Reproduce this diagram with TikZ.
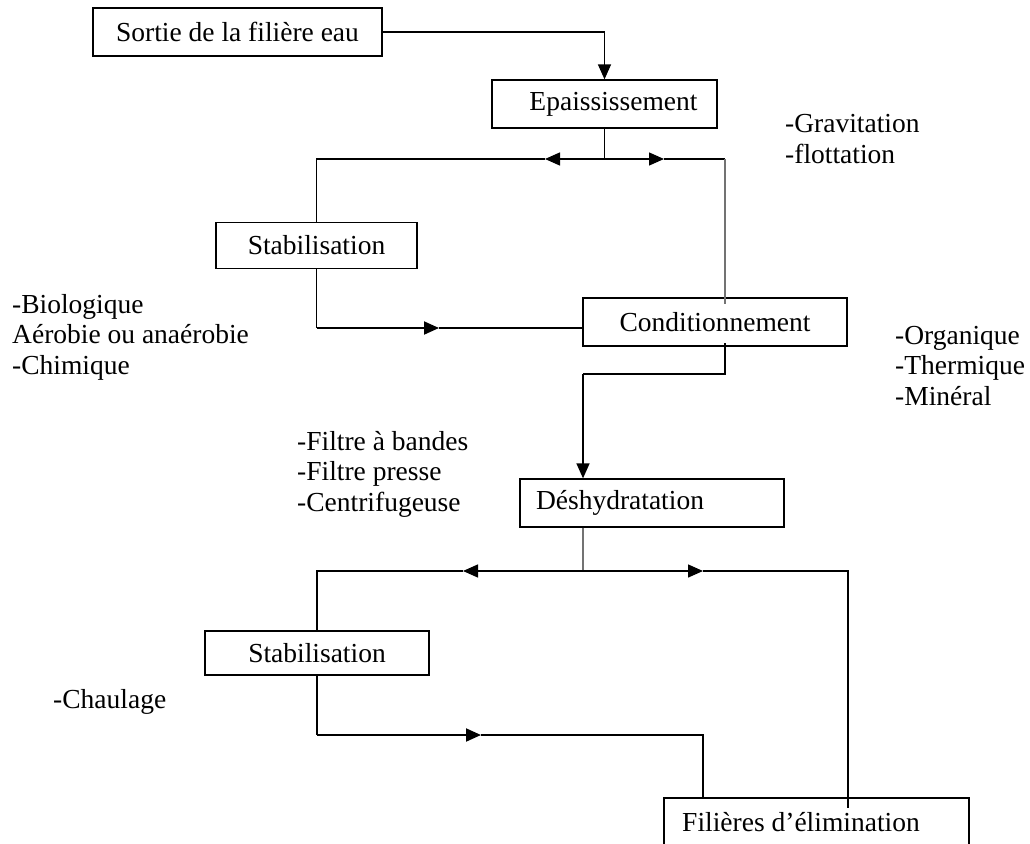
\documentclass[tikz,border=0pt]{standalone}
\usepackage{fontspec}
\setmainfont{Liberation Serif}
\usetikzlibrary{arrows.meta}
\begin{document}
\begin{tikzpicture}[x=1pt,y=-1pt,
  every node/.style={font=\fontsize{27.5}{30.5}\selectfont},
  box/.style={draw, line width=1.3pt, inner sep=0pt, minimum height=48pt},
  ln/.style={line width=1.4pt},
  thk/.style={line width=1.9pt},
  gln/.style={line width=1.4pt, draw=black!55},
  tip/.style={-{Triangle[length=15pt,width=13pt]}},
  arr/.style={line width=1.4pt, tip},
  note/.style={anchor=base west, align=left, inner sep=0pt}]
\useasboundingbox (0,0) rectangle (1030,843);
\clip (0,0) rectangle (1030,843);

% boxes
\node[box, minimum width=289pt] (sortie) at (237.5,32) {Sortie de la filière eau};
\node[box, minimum width=225pt] (epa) at (604.5,104) {\hspace*{18pt}Epaississement};
\node[box, minimum width=201pt, minimum height=46pt] (stab1) at (316.5,245.5) {Stabilisation};
\node[box, minimum width=264pt] (cond) at (715,322) {Conditionnement};
\node[box, minimum width=264pt] (deshy) at (652,503) {Déshydratation\hspace*{64pt}};
\node[box, minimum width=224pt, minimum height=44pt] (stab2) at (317,653) {Stabilisation};
\node[box, minimum width=305pt] (fil) at (816.5,822) {Filières d’élimination\hspace*{31pt}};

% notes (anchored at the baseline of their last line)
\node[note] (n1) at (785,163) {-Gravitation\\-flottation};
\node[note] (n2) at (12,374) {-Biologique\\Aérobie ou anaérobie\\-Chimique};
\node[note] (n3) at (895,405) {-Organique\\-Thermique\\-Minéral};
\node[note] (n4) at (297,511) {-Filtre à bandes\\-Filtre presse\\-Centrifugeuse};
\node[note] (n5) at (53,708) {-Chaulage};

% coordinates
\coordinate (sp1) at (604.5,159);
\coordinate (t1l) at (545,159);
\coordinate (t1r) at (664,159);
\coordinate (c1) at (725,159);
\coordinate (c1e) at (725,304);
\coordinate (c2) at (316.5,328);
\coordinate (t2) at (439,328);
\coordinate (c3) at (725,343);
\coordinate (c4) at (725,374);
\coordinate (c5) at (583,374);
\coordinate (c6) at (583,571);
\coordinate (t3l) at (463,571);
\coordinate (t3r) at (703,571);
\coordinate (c7) at (848,808);
\coordinate (c8) at (317,735);
\coordinate (t4) at (481,735);
\coordinate (c9) at (703,798);

% connectors
\draw[arr] (sortie.east) -| (epa.north);
\draw[ln] (epa.south) -- (sp1);
\draw[arr] (sp1) -- (t1l);
\draw[ln] (t1l) -| (stab1.north);
\draw[arr] (sp1) -- (t1r);
\draw[ln] (t1r) -- (c1);
\draw[gln] (c1) -- (c1e);

\draw[ln] (stab1.south) -- (c2);
\draw[thk, tip] (c2) -- (t2);
\draw[ln] (t2) -- (t2 -| cond.west);

\draw[ln] (c3) -- (c4) -- (c5);
\draw[arr] (c5) -- (c5 |- deshy.north);

\draw[gln] (c6 |- deshy.south) -- (c6);
\draw[arr] (c6) -- (t3l);
\draw[ln] (t3l) -| (stab2.north);
\draw[arr] (c6) -- (t3r);
\draw[ln] (t3r) -| (c7);

\draw[ln] (stab2.south) -- (c8);
\draw[thk, tip] (c8) -- (t4);
\draw[ln] (t4) -| (c9);
\end{tikzpicture}
\end{document}
